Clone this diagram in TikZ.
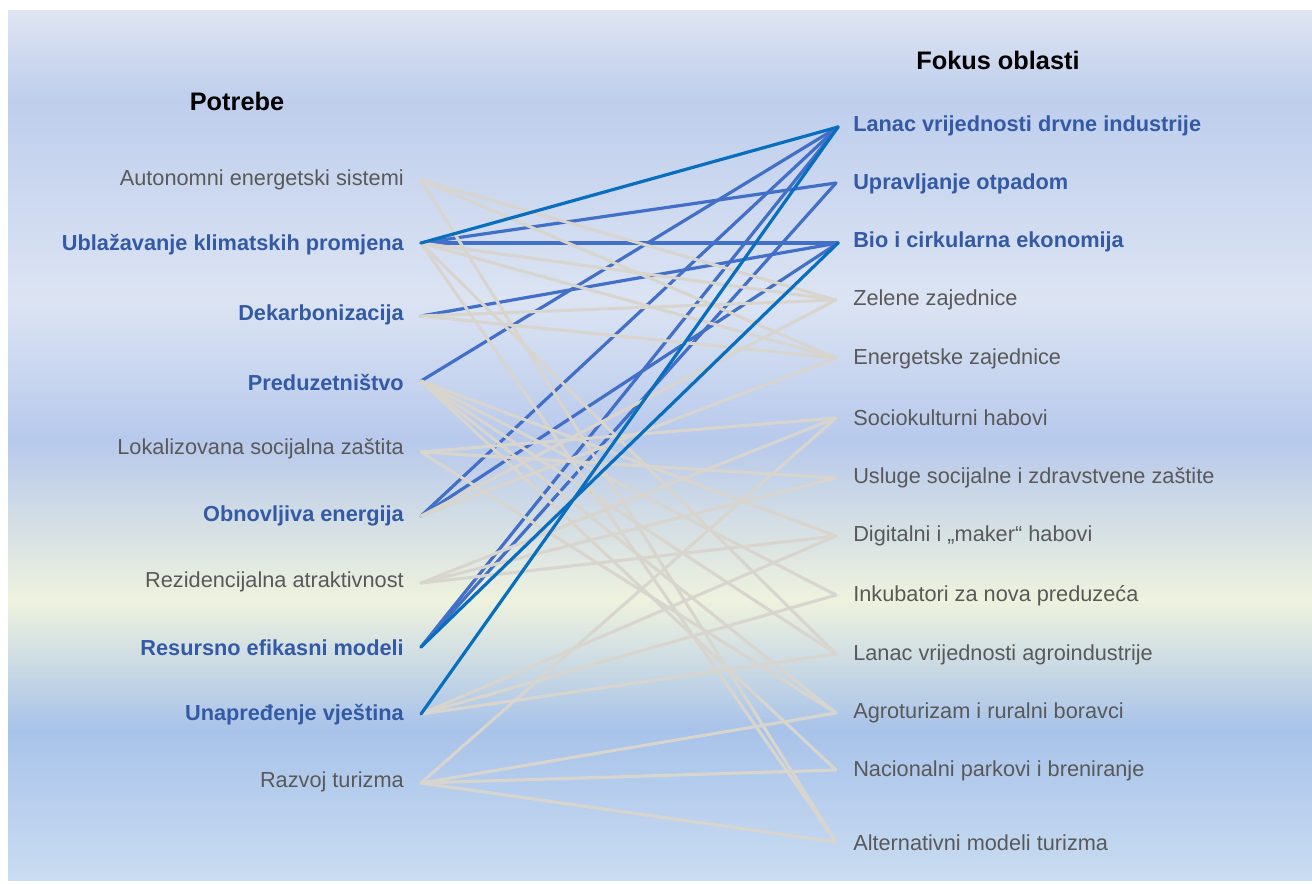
\documentclass[tikz,border=0pt]{standalone}
\usepackage{fontspec}
\setmainfont{Liberation Sans}
\begin{document}
\begin{tikzpicture}[x=0.75pt,y=-0.75pt,
  lab/.style={font=\fontsize{16.3pt}{19pt}\selectfont, text=txtgray, inner sep=0pt},
  labb/.style={font=\fontsize{16.3pt}{19pt}\selectfont\bfseries, text=txtblue, inner sep=0pt},
  head/.style={font=\fontsize{19pt}{22pt}\selectfont\bfseries, text=black, inner sep=0pt},
  gl/.style={draw=lgray, line width=2.3pt, line cap=round},
  bl/.style={draw=mblue, line width=2.4pt, line cap=round},
  dl/.style={draw=dblue, line width=2.4pt, line cap=round}]
\definecolor{txtgray}{RGB}{89,89,89}
\definecolor{txtblue}{RGB}{52,90,165}
\definecolor{lgray}{RGB}{216,213,207}
\definecolor{mblue}{RGB}{66,112,200}
\definecolor{dblue}{RGB}{10,110,190}
\definecolor{bg1}{RGB}{223,229,242}
\definecolor{bg2}{RGB}{190,206,236}
\definecolor{bg3}{RGB}{220,228,243}
\definecolor{bg4}{RGB}{183,201,236}
\definecolor{bg5}{RGB}{238,242,222}
\definecolor{bg6}{RGB}{168,195,234}
\definecolor{bg7}{RGB}{201,220,241}
\useasboundingbox (0,0) rectangle (1312,883);
\fill[white] (0,0) rectangle (1312,883);
% background gradient
\shade[top color=bg1, bottom color=bg2] (8,10) rectangle (1312,100);
\shade[top color=bg2, bottom color=bg3] (8,100) rectangle (1312,300);
\shade[top color=bg3, bottom color=bg4] (8,300) rectangle (1312,440);
\shade[top color=bg4, bottom color=bg5] (8,440) rectangle (1312,600);
\shade[top color=bg5, bottom color=bg6] (8,600) rectangle (1312,730);
\shade[top color=bg6, bottom color=bg7] (8,730) rectangle (1312,880);
% headers
\node[head] (hl) at (237,101) {Potrebe};
\node[head] (hr) at (998,60) {Fokus oblasti};
% left labels
\node[lab, anchor=east]  (n1)  at (404,180) {Autonomni energetski sistemi};
\node[labb, anchor=east] (n2)  at (404,245) {Ublažavanje klimatskih promjena};
\node[labb, anchor=east] (n3)  at (404,315) {Dekarbonizacija};
\node[labb, anchor=east] (n4)  at (404,382) {Preduzetništvo};
\node[lab, anchor=east]  (n5)  at (404,449) {Lokalizovana socijalna zaštita};
\node[labb, anchor=east] (n6)  at (404,516) {Obnovljiva energija};
\node[lab, anchor=east]  (n7)  at (404,582) {Rezidencijalna atraktivnost};
\node[labb, anchor=east] (n8)  at (404,648) {Resursno efikasni modeli};
\node[labb, anchor=east] (n9)  at (404,715) {Unapređenje vještina};
\node[lab, anchor=east]  (n10) at (404,782) {Razvoj turizma};
% right labels
\node[labb, anchor=west] (m1)  at (853,126) {Lanac vrijednosti drvne industrije};
\node[labb, anchor=west] (m2)  at (853,184) {Upravljanje otpadom};
\node[labb, anchor=west] (m3)  at (853,242) {Bio i cirkularna ekonomija};
\node[lab, anchor=west]  (m4)  at (853,300) {Zelene zajednice};
\node[lab, anchor=west]  (m5)  at (853,359) {Energetske zajednice};
\node[lab, anchor=west]  (m6)  at (853,418) {Sociokulturni habovi};
\node[lab, anchor=west]  (m7)  at (853,478) {Usluge socijalne i zdravstvene zaštite};
\node[lab, anchor=west]  (m8)  at (853,536) {Digitalni i „maker“ habovi};
\node[lab, anchor=west]  (m9)  at (853,596) {Inkubatori za nova preduzeća};
\node[lab, anchor=west]  (m10) at (853,655) {Lanac vrijednosti agroindustrije};
\node[lab, anchor=west]  (m11) at (853,713) {Agroturizam i ruralni boravci};
\node[lab, anchor=west]  (m12) at (853,771) {Nacionalni parkovi i breniranje};
\node[lab, anchor=west]  (m13) at (853,843) {Alternativni modeli turizma};
% connector end points
\coordinate (p1) at (421,180);
\coordinate (p2) at (421,243);
\coordinate (p3) at (421,316);
\coordinate (p4) at (421,381);
\coordinate (p5) at (421,452);
\coordinate (p6) at (421,516);
\coordinate (p7) at (421,583);
\coordinate (p8) at (421,647);
\coordinate (p9) at (421,714);
\coordinate (p10) at (421,783);
\coordinate (q1) at (838,127);
\coordinate (q2) at (836,183);
\coordinate (q3) at (838,243);
\coordinate (q4) at (836,300);
\coordinate (q5) at (836,358);
\coordinate (q6) at (836,418);
\coordinate (q7) at (836,478);
\coordinate (q8) at (836,536);
\coordinate (q9) at (836,595);
\coordinate (q10) at (836,654);
\coordinate (q11) at (836,713);
\coordinate (q12) at (836,770);
\coordinate (q13) at (836,842);
% medium blue connectors (under the grey ones)
\draw[bl] (p2) -- (q2);
\draw[bl] (p2) -- (q3);
\draw[bl] (p3) -- (q3);
\draw[bl] (p4) -- (q1);
\draw[bl] (p6) -- (q1);
\draw[bl] (p6) -- (q3);
\draw[bl] (p8) -- (q1);
\draw[bl] (p8) -- (q2);
% grey connectors
\draw[gl] (p1) -- (q4);
\draw[gl] (p1) -- (q5);
\draw[gl] (p1) -- (q13);
\draw[gl] (p2) -- (q4);
\draw[gl] (p2) -- (q5);
\draw[gl] (p2) -- (q10);
\draw[gl] (p2) -- (q13);
\draw[gl] (p3) -- (q4);
\draw[gl] (p3) -- (q5);
\draw[gl] (p4) -- (q8);
\draw[gl] (p4) -- (q9);
\draw[gl] (p4) -- (q10);
\draw[gl] (p4) -- (q11);
\draw[gl] (p4) -- (q12);
\draw[gl] (p5) -- (q6);
\draw[gl] (p5) -- (q7);
\draw[gl] (p5) -- (q11);
\draw[gl] (p6) -- (q4);
\draw[gl] (p6) -- (q5);
\draw[gl] (p7) -- (q6);
\draw[gl] (p7) -- (q7);
\draw[gl] (p7) -- (q8);
\draw[gl] (p9) -- (q8);
\draw[gl] (p9) -- (q9);
\draw[gl] (p9) -- (q10);
\draw[gl] (p10) -- (q6);
\draw[gl] (p10) -- (q11);
\draw[gl] (p10) -- (q12);
\draw[gl] (p10) -- (q13);
% dark blue connectors (on top)
\draw[dl] (p2) -- (q1);
\draw[dl] (p8) -- (q3);
\draw[dl] (p9) -- (q1);
\end{tikzpicture}
\end{document}
